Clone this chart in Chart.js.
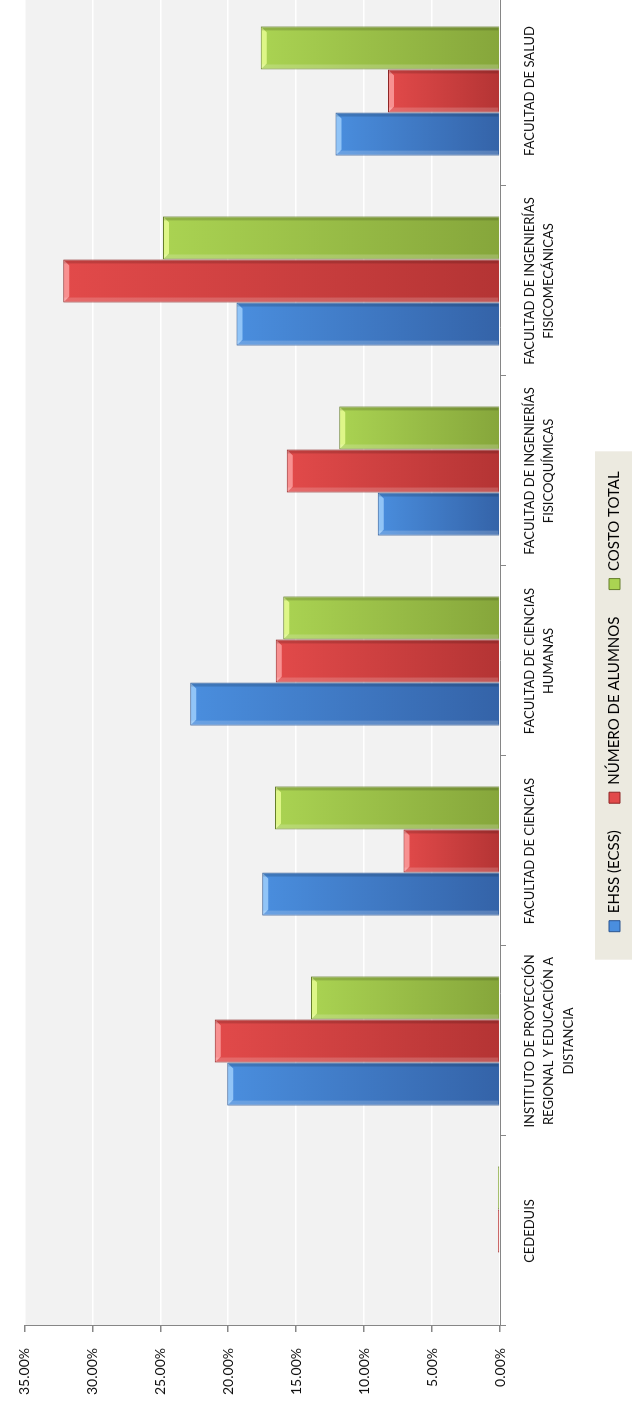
<!DOCTYPE html>
<html>
<head>
<meta charset="utf-8">
<script src="https://cdn.jsdelivr.net/npm/chart.js@4.4.1/dist/chart.umd.min.js"></script>
<style>
  html, body { margin: 0; padding: 0; background: #fff; width: 632px; height: 1407px; overflow: hidden; }
  /* the chart is drawn upright and turned a quarter turn to the left */
  #wrap { position: absolute; left: 0; top: 1407px; width: 1412px; height: 632px;
          transform-origin: 0 0; transform: rotate(-90deg); }
</style>
</head>
<body>
<div id="wrap"><canvas id="chart" width="1412" height="632"></canvas></div>
<script>
const categories = [
  'CEDEDUIS',
  ['INSTITUTO DE PROYECCIÓN', 'REGIONAL Y EDUCACIÓN A', 'DISTANCIA'],
  'FACULTAD DE CIENCIAS',
  ['FACULTAD DE CIENCIAS', 'HUMANAS'],
  ['FACULTAD DE INGENIERÍAS', 'FISICOQUÍMICAS'],
  ['FACULTAD DE INGENIERÍAS', 'FISICOMECÁNICAS'],
  'FACULTAD DE SALUD'
];
const seriesNames = ['EHSS (ECSS)', 'NÚMERO DE ALUMNOS', 'COSTO TOTAL'];
const ehss    = [0,    20.07, 17.5,  22.8,  9.0,   19.4,  12.1];
const alumnos = [0.15, 21.0,  7.1,   16.5,  15.7,  32.15, 8.25];
const costo   = [0.15, 13.9,  16.55, 15.95, 11.83, 24.8,  17.6];
const valueMax = 35;
const valueStep = 5;

// light end / dark end / edge / bevel
const palette = [
  ['#4a8ede', '#3463a8', '#2b5590', 'rgba(170,215,255,0.75)'],
  ['#e24a4a', '#b43434', '#8e2626', 'rgba(255,170,170,0.75)'],
  ['#aad352', '#86a63b', '#667f2c', 'rgba(235,255,150,0.8)']
];

function barFill(i) {
  return function (ctx) {
    const chart = ctx.chart;
    if (!chart.chartArea || ctx.type !== 'data') return palette[i][0];
    const y = chart.scales.y;
    const top = y.getPixelForValue(ctx.raw || 0);
    const base = y.getPixelForValue(0);
    if (base - top < 1) return palette[i][1];
    const g = chart.ctx.createLinearGradient(0, top, 0, base);
    g.addColorStop(0, palette[i][0]);
    g.addColorStop(1, palette[i][1]);
    return g;
  };
}

const backgrounds = {
  id: 'backgrounds',
  beforeDraw(chart) {
    const { ctx, chartArea: a, legend } = chart;
    ctx.save();
    ctx.fillStyle = '#f2f2f2';
    ctx.fillRect(a.left, a.top, a.right - a.left, a.bottom - a.top);
    const boxes = legend.legendHitBoxes;
    if (boxes && boxes.length) {
      const last = boxes[boxes.length - 1];
      const left = boxes[0].left - 28;
      const right = last.left + last.width + 20;
      const top = boxes[0].top - 12;
      ctx.fillStyle = '#eceae0';
      ctx.fillRect(left, top, right - left, chart.height - top);
    }
    ctx.restore();
  }
};

const bevel = {
  id: 'bevel',
  afterDatasetsDraw(chart) {
    const ctx = chart.ctx;
    ctx.save();
    chart.data.datasets.forEach((ds, i) => {
      chart.getDatasetMeta(i).data.forEach(bar => {
        const h = bar.base - bar.y;
        if (h < 8) return;
        const l = bar.x - bar.width / 2 + 1, r = bar.x + bar.width / 2 - 1;
        ctx.fillStyle = palette[i][3];
        ctx.beginPath();
        ctx.moveTo(l, bar.y + 1);
        ctx.lineTo(r, bar.y + 1);
        ctx.lineTo(r - 5, bar.y + 6);
        ctx.lineTo(l + 5, bar.y + 6);
        ctx.closePath();
        ctx.fill();
        ctx.fillStyle = 'rgba(255,255,255,0.18)';
        ctx.fillRect(l, bar.y + 1, 4, h - 2);
        ctx.fillStyle = 'rgba(0,0,0,0.15)';
        ctx.fillRect(r - 3, bar.y + 1, 3, h - 2);
      });
    });
    ctx.restore();
  }
};

const seriesData = [ehss, alumnos, costo];

new Chart(document.getElementById('chart'), {
  type: 'bar',
  data: {
    labels: categories,
    datasets: seriesNames.map((name, i) => ({
      label: name,
      data: seriesData[i],
      backgroundColor: barFill(i),
      borderColor: palette[i][2],
      borderWidth: 1,
      categoryPercentage: 0.68,
      barPercentage: 1.0
    }))
  },
  options: {
    responsive: false,
    animation: false,
    devicePixelRatio: 1,
    layout: { padding: { top: 24, right: 1, left: 0, bottom: 0 } },
    plugins: {
      tooltip: { enabled: false },
      legend: {
        position: 'bottom',
        labels: {
          font: { family: 'Lato', size: 15 },
          color: '#111',
          boxWidth: 11,
          boxHeight: 11,
          padding: 27,
          generateLabels(chart) {
            return chart.data.datasets.map((ds, i) => ({
              text: ds.label,
              fillStyle: palette[i][0],
              strokeStyle: palette[i][2],
              lineWidth: 1,
              datasetIndex: i
            }));
          }
        }
      }
    },
    scales: {
      x: {
        afterFit(scale) { scale.height = 80; },
        grid: { offset: true, drawOnChartArea: false, drawTicks: true, tickLength: 6, color: '#868686' },
        border: { display: true, color: '#868686', width: 1 },
        ticks: {
          autoSkip: false, maxRotation: 0, minRotation: 0, padding: 14,
          color: '#111',
          font: { family: 'Lato', size: 13, lineHeight: 1.5 }
        }
      },
      y: {
        min: 0,
        max: valueMax,
        afterFit(scale) { scale.width = 81; },
        grid: { color: '#ffffff', lineWidth: 1.5, tickColor: '#868686', tickLength: 6 },
        border: { display: true, color: '#868686', width: 1 },
        ticks: {
          stepSize: valueStep, padding: 16, color: '#111',
          font: { family: 'Lato', size: 14 },
          callback: v => v.toFixed(2) + '%'
        }
      }
    }
  },
  plugins: [backgrounds, bevel]
});
</script>
</body>
</html>
